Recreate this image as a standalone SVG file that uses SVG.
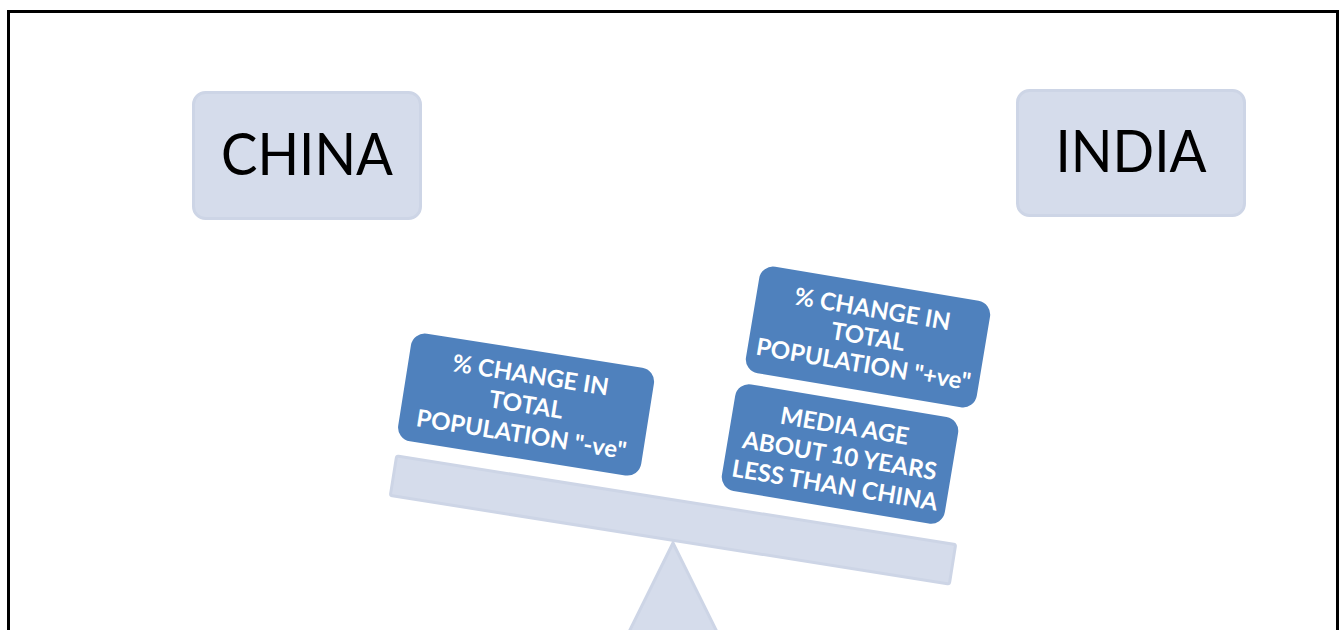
<svg xmlns="http://www.w3.org/2000/svg" width="1340" height="630" viewBox="0 0 1340 630">
<style>
.light{fill:#D5DCEB;stroke:#CDD5E6;stroke-width:3}
.blue{fill:#4F81BD;stroke:none}
.big{font-family:Lato,"Open Sans",sans-serif;font-size:58px;fill:#000;text-anchor:middle}
.lbl{font-family:Lato,"Open Sans",sans-serif;font-weight:bold;font-size:24px;fill:#fff;text-anchor:middle}
</style>
<rect x="0" y="0" width="1340" height="630" fill="#fff"/>
<rect x="8.5" y="11.5" width="1329" height="680" fill="none" stroke="#000" stroke-width="3"/>
<g id="fulcrum">
<polygon class="light" points="673,543 721,640 625,640"/>
</g>
<g id="beam">
<rect class="light" x="390" y="500" width="566" height="40" rx="2" transform="rotate(9 673 520)"/>
</g>
<g id="china">
<rect class="light" x="193.5" y="92.5" width="227" height="126" rx="12"/>
<text class="big" x="307" y="175" textLength="172" lengthAdjust="spacingAndGlyphs">CHINA</text>
</g>
<g id="india">
<rect class="light" x="1017.5" y="90.5" width="227" height="125" rx="12"/>
<text class="big" x="1131" y="172" textLength="151" lengthAdjust="spacingAndGlyphs">INDIA</text>
</g>
<g id="china-pop" transform="rotate(9 526 405)">
<rect class="blue" x="403" y="350" width="246" height="109" rx="14"/>
<text class="lbl" x="526" y="383">% CHANGE IN</text>
<text class="lbl" x="526" y="413">TOTAL</text>
<text class="lbl" x="526" y="443">POPULATION "-ve"</text>
</g>
<g id="india-pop" transform="rotate(9.5 868 337)">
<rect class="blue" x="751" y="283" width="234" height="108" rx="14"/>
<text class="lbl" x="868" y="317">% CHANGE IN</text>
<text class="lbl" x="868" y="345">TOTAL</text>
<text class="lbl" x="868" y="373">POPULATION "+ve"</text>
</g>
<g id="india-age" transform="rotate(9.5 840 454)">
<rect class="blue" x="727" y="400" width="226" height="108" rx="14"/>
<text class="lbl" x="840" y="434">MEDIA AGE</text>
<text class="lbl" x="840" y="464">ABOUT 10 YEARS</text>
<text class="lbl" x="840" y="494">LESS THAN CHINA</text>
</g>
</svg>
